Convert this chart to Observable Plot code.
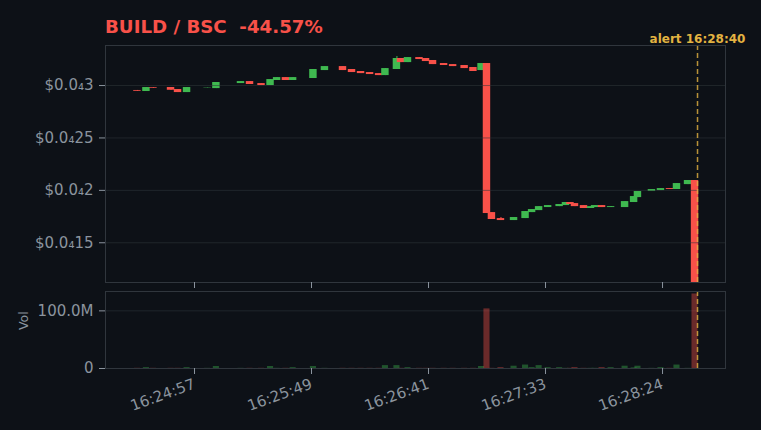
<!DOCTYPE html>
<html><head><meta charset="utf-8">
<script src="https://cdn.jsdelivr.net/npm/d3@7"></script>
<script src="https://cdn.jsdelivr.net/npm/@observablehq/plot@0.6"></script>
<style>
html,body{margin:0;padding:0;background:#0d1117;}
#wrap{position:relative;width:761px;height:430px;background:#0d1117;font-family:"DejaVu Sans",sans-serif;overflow:hidden}
#title{position:absolute;left:105px;top:17px;line-height:20px;font-weight:bold;font-size:18.2px;color:#f85149;white-space:pre;}
#main{position:absolute;left:0;top:0}
#vol{position:absolute;left:0;top:283px}
</style></head>
<body><div id="wrap"><div id="title"></div><div id="main"></div><div id="vol"></div></div>
<script>
const titleText = "BUILD / BSC  -44.57%";
const alertTime = 280.4; // seconds after 16:24:00
const alertLabel = "alert 16:28:40";

// candle times: seconds after 16:24:00
const times = [32.2,36.2,39.3,47.1,50.2,54.2,63.3,67.2,78.1,82.1,
  87.2,91.2,94.1,98.0,101.2,110.2,115.3,123.3,127.3,131.3,
  135.3,139.3,142.1,147.2,149.0,152.1,157.2,160.1,163.2,168.1,
  172.1,177.2,181.1,184.7,187.1,189.3,193.3,199.1,204.2,207.1,
  210.2,214.2,219.3,222.1,224.1,226.1,230.1,233.2,235.0,238.1,
  242.1,248.3,252.3,254.0,260.2,264.2,268.2,271.3,276.2,279.3];
// prices in micro-dollars (1e-6 USD)
const opens = [29.53,29.43,29.81,29.81,29.62,29.33,29.78,29.71,30.19,30.38,
  30.19,30.00,30.48,30.76,30.48,30.67,31.43,31.81,31.53,31.34,
  31.24,31.14,30.95,31.53,32.58,32.19,32.67,32.58,32.39,32.10,
  32.00,31.91,31.72,31.43,32.10,17.88,17.31,17.12,17.31,17.88,
  18.07,18.36,18.45,18.55,18.84,18.74,18.55,18.27,18.36,18.55,
  18.36,18.36,18.84,19.31,19.89,19.98,20.17,20.08,20.55,20.94];
const closes = [29.45,29.81,29.74,29.55,29.33,29.81,29.81,30.29,30.38,30.10,
  30.00,30.57,30.76,30.48,30.76,31.53,31.81,31.43,31.24,31.14,
  31.05,30.95,31.62,32.58,32.19,32.67,32.48,32.29,32.00,31.91,
  31.81,31.62,31.34,32.10,17.79,17.22,17.12,17.41,17.98,18.17,
  18.45,18.55,18.65,18.84,18.65,18.45,18.27,18.45,18.55,18.36,
  18.45,18.93,19.41,19.89,20.08,20.17,20.08,20.65,20.94,9.00];
const highs = [29.53,29.81,29.81,29.81,29.62,29.81,29.81,30.29,30.38,30.38,
  30.19,30.57,30.76,30.76,30.76,31.53,31.81,31.81,31.53,31.34,
  31.24,31.14,31.62,32.77,32.58,32.67,32.67,32.58,32.39,32.10,
  32.00,31.91,31.72,32.10,32.10,17.88,17.41,17.41,17.98,18.17,
  18.45,18.55,18.65,18.84,18.84,18.74,18.55,18.45,18.55,18.55,
  18.45,18.93,19.41,19.89,20.08,20.17,20.17,20.65,20.94,20.94];
const lows = [29.45,29.43,29.74,29.55,29.33,29.33,29.78,29.71,30.19,30.10,
  30.00,30.00,30.48,30.48,30.48,30.67,31.43,31.43,31.24,31.14,
  31.05,30.95,30.95,31.53,32.19,32.19,32.48,32.29,32.00,31.91,
  31.81,31.62,31.34,31.43,17.79,17.22,17.12,17.12,17.31,17.88,
  18.07,18.36,18.45,18.55,18.65,18.45,18.27,18.27,18.36,18.36,
  18.36,18.36,18.84,19.31,19.89,19.98,20.08,20.08,20.55,9.00];
// volume in millions
const volumes = [0.3,1.5,0.3,0.3,0.3,1.5,0.3,3.5,0.3,0.3,
  0.3,3.5,0.3,0.3,1.5,3.5,0.3,0.3,0.3,0.3,
  0.3,0.3,5.0,5.0,0.3,1.5,0.3,0.3,0.3,0.3,
  0.3,0.3,0.3,3.5,103.4,0.3,1.5,4.0,6.0,1.5,
  5.0,1.5,1.5,0.3,0.3,1.5,0.3,0.3,0.3,1.5,
  1.5,4.0,1.0,4.0,0.3,1.5,0.3,6.0,0.3,129.3];

const yTicks = [15e-6, 20e-6, 25e-6, 30e-6];
const volTicks = [0, 100e6];
const xTicks = [57.5, 109.35, 161.2, 213.05, 264.9];
const xTickLabels = ["16:24:57","16:25:49","16:26:41","16:27:33","16:28:24"];

const UP = "#3fb950", DOWN = "#f85149", ALERT = "#e3b341", GREY = "#8b949e", FRAME = "#30363d";

const candles = times.map((t, i) => ({
  t, open: opens[i]*1e-6, close: closes[i]*1e-6, high: highs[i]*1e-6, low: lows[i]*1e-6,
  vol: volumes[i]*1e6, up: closes[i] >= opens[i]
}));
const colorOf = d => d.up ? UP : DOWN;
const halfW = 1.65, halfV = 1.35;

function fmtPrice(v) {
  const s = v.toFixed(12).replace(/0+$/, "");
  const dp = s.split(".")[1];
  const m = dp.match(/^0*/)[0].length;
  const sub = String(m).split("").map(c => "₀₁₂₃₄₅₆₇₈₉"[+c]).join("");
  return "$0.0" + sub + dp.slice(m);
}
const fmtVol = v => v === 0 ? "0" : (v/1e6).toFixed(1) + "M";
const xLabelMap = new Map(xTicks.map((t, i) => [t, xTickLabels[i]]));
const xDomain = [18.06, 292.8];
const style = {background:"transparent", color:GREY, fontSize:"15px", fontFamily:"DejaVu Sans, sans-serif"};

document.getElementById("title").textContent = titleText;

const main = Plot.plot({
  width: 761, height: 290,
  marginLeft: 105, marginRight: 36, marginTop: 45, marginBottom: 8,
  style,
  x: {domain: xDomain},
  y: {domain: [11.21e-6, 33.82e-6]},
  marks: [
    Plot.ruleX(candles, {x: "t", y1: "low", y2: "high", stroke: colorOf, strokeWidth: 1, clip: true}),
    Plot.rect(candles, {x1: d => d.t - halfW, x2: d => d.t + halfW, y1: "open", y2: "close", fill: colorOf, clip: true}),
    Plot.ruleY(yTicks, {stroke: FRAME, strokeOpacity: 0.55}),
    Plot.ruleX([alertTime], {stroke: ALERT, strokeOpacity: 0.8, strokeWidth: 1.5, strokeDasharray: "5,3"}),
    Plot.text([{t: alertTime, label: alertLabel}], {x: "t", text: "label", frameAnchor: "top", lineAnchor: "bottom", dy: -3, fill: ALERT, fontWeight: "bold", fontSize: 12}),
    Plot.frame({stroke: FRAME}),
    Plot.axisY({ticks: yTicks, tickFormat: fmtPrice, tickSize: 6, tickPadding: 6, label: null}),
    Plot.axisX({ticks: xTicks, tickFormat: () => "", tickSize: 6, label: null})
  ]
});
document.getElementById("main").appendChild(main);

const vol = Plot.plot({
  width: 761, height: 147,
  marginLeft: 105, marginRight: 36, marginTop: 8, marginBottom: 62,
  style,
  x: {domain: xDomain},
  y: {domain: [0, 133.6e6]},
  marks: [
    Plot.ruleY([100e6], {stroke: FRAME, strokeOpacity: 0.55}),
    Plot.rect(candles, {x1: d => d.t - halfV, x2: d => d.t + halfV, y1: () => 0, y2: "vol", fill: colorOf, fillOpacity: 0.4}),
    Plot.ruleX([alertTime], {stroke: ALERT, strokeOpacity: 0.8, strokeWidth: 1.5, strokeDasharray: "5,3"}),
    Plot.frame({stroke: FRAME}),
    Plot.text(["Vol"], {text: d => d, frameAnchor: "left", rotate: -90, dx: -82, fill: GREY, fontSize: 12.5}),
    Plot.axisY({ticks: volTicks, tickFormat: fmtVol, tickSize: 6, tickPadding: 6, label: null}),
    Plot.axisX({ticks: xTicks, tickFormat: d => xLabelMap.get(d), tickRotate: -20, tickSize: 6, tickPadding: 9, label: null})
  ]
});
document.getElementById("vol").appendChild(vol);
</script>
</body></html>
